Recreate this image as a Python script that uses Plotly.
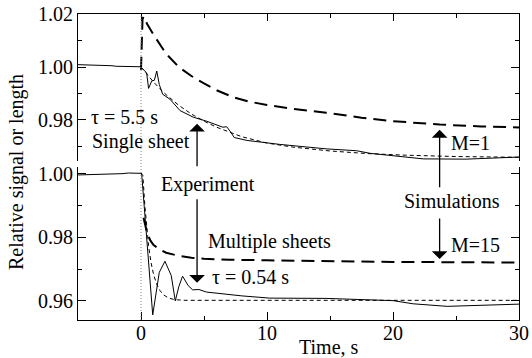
import plotly.graph_objects as go

# ---------------- data ----------------
# Top panel: single sheet
top_exp_t = [-5, -4, -3, -2.3, -2, -1, -0.5, 0, 0.05, 0.45, 0.6, 0.85, 1.06, 1.25, 1.45, 1.72,
             2.3, 3.1, 4.15, 5.2, 6.5, 6.8, 7.1, 7.4, 8.4, 10.2, 11.0, 14.7, 17.1, 18.2, 22.4, 25.8, 30]
top_exp_v = [1.0009, 1.0008, 1.0007, 1.0005, 1.0003, 1.0003, 1.0002, 1.0001, 0.9997, 0.9978, 0.9919,
             0.9947, 0.9950, 0.9985, 0.9934, 0.9897, 0.9878, 0.9835, 0.9810, 0.9795, 0.9772, 0.9774,
             0.9755, 0.9733, 0.9722, 0.9710, 0.9707, 0.9690, 0.9683, 0.9673, 0.9652, 0.9651, 0.9659]
top_fit_t = [0, 0.5, 1, 1.5, 2, 3, 4, 5, 6, 8, 10, 12, 15, 18, 21, 25, 30]
top_fit_v = [1.0000, 0.9970, 0.9943, 0.9918, 0.9895, 0.9855, 0.9822, 0.9795, 0.9772, 0.9736,
             0.9712, 0.9697, 0.9682, 0.9672, 0.9666, 0.9661, 0.9658]
top_sim_t = [0, 0.12, 0.2, 0.3, 0.5, 1.0, 1.5, 2.0, 3.0, 4.0, 5.0, 6.0, 7.3, 8.5, 10, 12, 14.7,
             17.5, 20, 23.7, 27, 30]
top_sim_v = [0.9990, 1.0180, 1.0192, 1.0182, 1.0162, 1.0122, 1.0085, 1.0050, 1.0000, 0.9966,
             0.9938, 0.9912, 0.9886, 0.9870, 0.9856, 0.9842, 0.9827, 0.9808, 0.9795, 0.9782,
             0.9775, 0.9771]

# Bottom panel: multiple sheets
bot_exp_t = [-5, -3, -1.5, -1, -0.5, 0, 0.05, 0.93, 1.29, 1.45, 1.9, 2.4, 2.72, 3.0, 3.3, 3.75,
             4.1, 4.6, 5.2, 6.0, 8.0, 10.2, 14.7, 20, 21.6, 24.3, 26.6, 30]
bot_exp_v = [0.9997, 0.9998, 1.0001, 1.0003, 1.0003, 1.0004, 1.0002, 0.9556, 0.9642, 0.9690,
             0.9725, 0.9680, 0.9600, 0.9645, 0.9678, 0.9648, 0.9635, 0.9636, 0.9628, 0.9624,
             0.9616, 0.9609, 0.9608, 0.9601, 0.9591, 0.9583, 0.9585, 0.9590]
bot_fit_t = [0, 0.15, 0.3, 0.45, 0.6, 0.8, 1.0, 1.25, 1.5, 1.8, 2.2, 2.7, 3.5, 5, 30]
bot_fit_v = [1.0003, 0.9995, 0.9903, 0.9830, 0.9774, 0.9720, 0.9683, 0.9652, 0.9633, 0.9619,
             0.9609, 0.9604, 0.9602, 0.9602, 0.9602]
bot_sim_t = [0.2, 0.3, 0.5, 0.75, 1.0, 1.5, 2.0, 3.0, 4.0, 5.0, 7.0, 10, 15, 20, 25, 30]
bot_sim_v = [0.9862, 0.9845, 0.9812, 0.9790, 0.9776, 0.9762, 0.9752, 0.9742, 0.9736, 0.9733,
             0.9730, 0.9728, 0.9725, 0.9723, 0.9722, 0.9721]

x_tick_vals = [0, 10, 20, 30]
y_tick_vals = [0.96, 0.98, 1.00, 1.02]

# ---------------- figure ----------------
FONT = "Liberation Serif"
fig = go.Figure()

exp_line = dict(color="black", width=1)
fit_line = dict(color="black", width=1, dash="4px,3px")
sim_line = dict(color="black", width=2, dash="13px,7px")

fig.add_trace(go.Scatter(x=top_exp_t, y=top_exp_v, xaxis="x2", yaxis="y2", mode="lines", line=exp_line))
fig.add_trace(go.Scatter(x=top_fit_t, y=top_fit_v, xaxis="x2", yaxis="y2", mode="lines", line=fit_line))
fig.add_trace(go.Scatter(x=top_sim_t, y=top_sim_v, xaxis="x2", yaxis="y2", mode="lines", line=sim_line))
fig.add_trace(go.Scatter(x=bot_exp_t, y=bot_exp_v, xaxis="x", yaxis="y", mode="lines", line=exp_line))
fig.add_trace(go.Scatter(x=bot_fit_t, y=bot_fit_v, xaxis="x", yaxis="y", mode="lines", line=fit_line))
fig.add_trace(go.Scatter(x=bot_sim_t, y=bot_sim_v, xaxis="x", yaxis="y", mode="lines", line=sim_line))

axis_common = dict(showline=True, linecolor="black", linewidth=1, ticks="inside", tickcolor="black",
                   showgrid=False, zeroline=False, automargin=False,
                   tickfont=dict(family=FONT, size=20, color="black"))

fig.update_layout(
    width=532, height=358,
    autosize=False,
    margin=dict(l=78, r=13, t=14, b=38, pad=0),
    paper_bgcolor="white", plot_bgcolor="white",
    showlegend=False,
    font=dict(family=FONT, size=20, color="black"),
    xaxis=dict(domain=[0, 1], range=[-5, 30], anchor="y", tickvals=x_tick_vals, ticklen=8,
               minor=dict(dtick=5, tick0=0, ticklen=4, ticks="inside", tickcolor="black"),
               ticklabelstandoff=-5, **axis_common),
    xaxis2=dict(domain=[0, 1], range=[-5, 30], anchor="y2", side="top", matches="x",
                tickvals=x_tick_vals, ticklen=7, showticklabels=False,
                minor=dict(dtick=5, tick0=0, ticklen=4, ticks="inside", tickcolor="black"),
                **axis_common),
    yaxis=dict(domain=[0, 0.5], range=[0.954, 1.0022], anchor="x", tickvals=y_tick_vals,
               tickformat=".2f", ticklen=8, mirror="ticks",
               minor=dict(dtick=0.01, tick0=0.96, ticklen=4, ticks="inside", tickcolor="black"),
               ticklabelstandoff=0, **axis_common),
    yaxis2=dict(domain=[0.5196, 1], range=[0.9644, 1.0201], anchor="x2", tickvals=y_tick_vals,
                tickformat=".2f", ticklen=8, mirror="ticks",
                minor=dict(dtick=0.01, tick0=0.96, ticklen=4, ticks="inside", tickcolor="black"),
                ticklabelstandoff=0, **axis_common),
)

# dotted line at t = 0 through both panels
fig.add_shape(type="line", xref="x", yref="paper", x0=0, x1=0, y0=0, y1=1,
              line=dict(color="#888888", width=1, dash="1px,2px"))

def txt(s, xp, yp, **kw):
    fig.add_annotation(text=s, xref="paper", yref="paper", x=xp, y=yp, showarrow=False,
                       xanchor="center", yanchor="middle",
                       font=dict(family=FONT, size=20, color="black"), **kw)

def px2paper(px, py):
    return (px - 78) / 441.0, (320 - py) / 306.0

for s, (px, py) in [("τ = 5.5 s", (124, 117)), ("Single sheet", (140.5, 141)),
                    ("Experiment", (207.5, 184)), ("Multiple sheets", (269, 241)),
                    ("τ = 0.54 s", (250, 277)), ("M=1", (470, 143)),
                    ("Simulations", (452, 201)), ("M=15", (475, 245))]:
    xp, yp = px2paper(px, py)
    txt(s, xp, yp)

txt("Time, s", *px2paper(329, 347))
txt("Relative signal or length", *px2paper(17, 172), textangle=-90)

def arrow(x, y, xref, yref, ay):
    fig.add_annotation(text="", x=x, y=y, xref=xref, yref=yref, ax=0, ay=ay, showarrow=True,
                       arrowhead=1, arrowsize=2, arrowwidth=1.3, arrowcolor="black")

arrow(4.45, 0.9785, "x2", "y2", 44)
arrow(4.45, 0.9657, "x", "y", -85)
arrow(23.7, 0.9762, "x2", "y2", 59)
arrow(23.7, 0.9732, "x", "y", -42)

fig.write_html("out.html", config={"displayModeBar": False},
               post_script="document.body.style.margin='0';document.body.style.overflow='hidden';")
